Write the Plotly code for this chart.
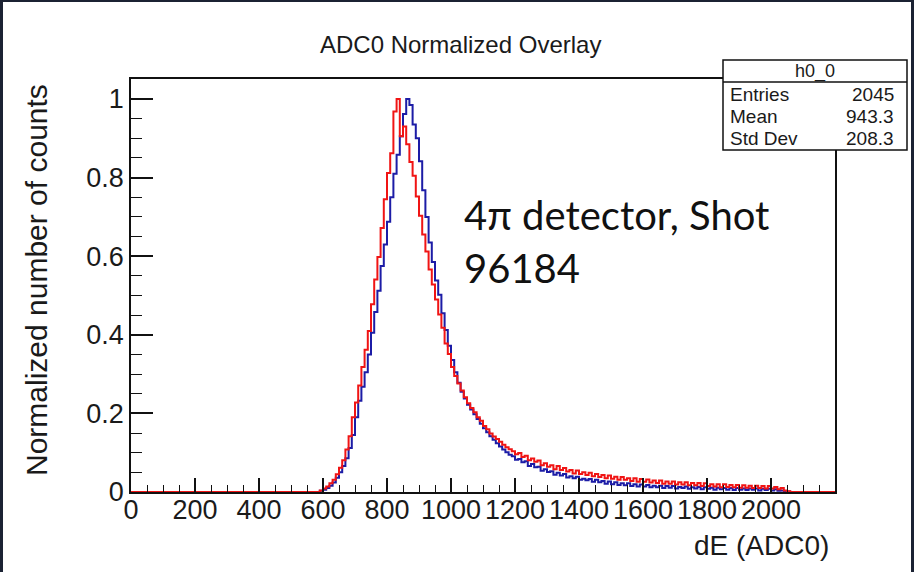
import numpy as np
import plotly.graph_objects as go

# Histogram binning (dE in ADC0 units)
BIN_WIDTH = 10
X_MIN, X_MAX = 0, 2200
FIRST_FILLED_EDGE = 590

# Normalized counts per bin, starting at FIRST_FILLED_EDGE
blue_counts = [
    0.003, 0.006, 0.010, 0.016, 0.024, 0.036, 0.050, 0.066, 0.086, 0.112,
    0.145, 0.190, 0.232, 0.268, 0.305, 0.350, 0.405, 0.458, 0.512, 0.575,
    0.630, 0.688, 0.750, 0.810, 0.858, 0.905, 0.962, 1.000, 0.985, 0.935,
    0.900, 0.842, 0.768, 0.700, 0.635, 0.585, 0.538, 0.502, 0.455, 0.412,
    0.372, 0.336, 0.305, 0.278, 0.255, 0.238, 0.222, 0.210, 0.198, 0.186,
    0.174, 0.162, 0.152, 0.142, 0.133, 0.124, 0.116, 0.108, 0.101, 0.095,
    0.091, 0.082, 0.084, 0.076, 0.078, 0.066, 0.071, 0.063, 0.064, 0.054,
    0.058, 0.051, 0.053, 0.044, 0.049, 0.042, 0.046, 0.037, 0.040, 0.035,
    0.039, 0.031, 0.034, 0.030, 0.033, 0.026, 0.031, 0.025, 0.028, 0.021,
    0.027, 0.020, 0.025, 0.018, 0.022, 0.017, 0.022, 0.015, 0.020, 0.014,
    0.019, 0.014, 0.018, 0.012, 0.016, 0.012, 0.016, 0.010, 0.015, 0.011,
    0.015, 0.009, 0.013, 0.010, 0.014, 0.008, 0.012, 0.009, 0.013, 0.007,
    0.012, 0.008, 0.011, 0.006, 0.011, 0.007, 0.010, 0.006, 0.010, 0.005,
    0.010, 0.006, 0.009, 0.005, 0.009, 0.006, 0.009, 0.004, 0.008, 0.005,
    0.008, 0.004, 0.007, 0.003, 0.004, 0.002, 0.001,
]

red_counts = [
    0.004, 0.009, 0.014, 0.022, 0.031, 0.045, 0.062, 0.081, 0.108, 0.142,
    0.190, 0.228, 0.271, 0.318, 0.362, 0.410, 0.478, 0.541, 0.598, 0.672,
    0.745, 0.812, 0.862, 0.968, 1.000, 0.905, 0.930, 0.885, 0.840, 0.805,
    0.752, 0.703, 0.655, 0.612, 0.566, 0.528, 0.490, 0.452, 0.418, 0.378,
    0.351, 0.318, 0.295, 0.276, 0.258, 0.241, 0.226, 0.214, 0.203, 0.190,
    0.181, 0.168, 0.160, 0.149, 0.141, 0.135, 0.128, 0.120, 0.114, 0.109,
    0.104, 0.096, 0.099, 0.089, 0.092, 0.081, 0.085, 0.077, 0.080, 0.068,
    0.073, 0.064, 0.068, 0.058, 0.066, 0.056, 0.061, 0.052, 0.056, 0.047,
    0.055, 0.046, 0.050, 0.043, 0.049, 0.040, 0.046, 0.038, 0.043, 0.035,
    0.042, 0.034, 0.039, 0.031, 0.038, 0.031, 0.035, 0.028, 0.035, 0.026,
    0.033, 0.026, 0.032, 0.024, 0.029, 0.023, 0.029, 0.021, 0.027, 0.021,
    0.027, 0.019, 0.025, 0.019, 0.025, 0.017, 0.023, 0.017, 0.023, 0.015,
    0.022, 0.015, 0.020, 0.014, 0.020, 0.012, 0.020, 0.013, 0.018, 0.012,
    0.018, 0.011, 0.017, 0.011, 0.016, 0.010, 0.016, 0.010, 0.015, 0.009,
    0.015, 0.009, 0.013, 0.007, 0.010, 0.004, 0.002,
]

x_tick_values = [0, 200, 400, 600, 800, 1000, 1200, 1400, 1600, 1800, 2000]
x_tick_labels = [str(v) for v in x_tick_values]
y_tick_values = [0, 0.2, 0.4, 0.6, 0.8, 1.0]
y_tick_labels = ["0", "0.2", "0.4", "0.6", "0.8", "1"]

stats_rows = [("Entries", "2045"), ("Mean", "943.3"), ("Std Dev", "208.3")]

BLUE = "#1c1ca6"
RED = "#f01414"
INK = "#1a1a1a"
FONT = "Liberation Sans, Arial, sans-serif"


def step_arrays(counts):
    """Full 0..2200 histogram as step-line vertices (empty bins are zero)."""
    edges = np.arange(X_MIN, X_MAX + BIN_WIDTH, BIN_WIDTH)
    vals = np.zeros(len(edges) - 1)
    start = (FIRST_FILLED_EDGE - X_MIN) // BIN_WIDTH
    vals[start:start + len(counts)] = counts
    return edges, np.append(vals, vals[-1])


fig = go.Figure()
for counts, color in ((blue_counts, BLUE), (red_counts, RED)):
    xs, ys = step_arrays(counts)
    fig.add_trace(go.Scatter(x=xs, y=ys, mode="lines", line_shape="hv",
                             line=dict(color=color, width=2),
                             hoverinfo="skip", showlegend=False))

# Plot frame geometry in pixels
W, H = 914, 572
L, R, T, B = 131, 835, 79, 492
pw, ph = R - L, B - T


def px(x):
    return (x - L) / pw


def py(y):
    return (B - y) / ph


fig.update_layout(
    width=W, height=H,
    margin=dict(l=L, r=W - R, t=T, b=H - B),
    paper_bgcolor="white", plot_bgcolor="white",
    font=dict(family=FONT, color=INK),
    xaxis=dict(range=[X_MIN, X_MAX], tickmode="array", tickvals=x_tick_values,
               ticktext=x_tick_labels, ticks="inside", ticklen=14, tickwidth=1.5,
               tickcolor="#111", showgrid=False, zeroline=False, showline=True,
               linecolor="#111", linewidth=1.5, mirror=True, tickangle=0,
               ticklabelstandoff=-7,
               tickfont=dict(size=27, family=FONT, color=INK),
               minor=dict(dtick=50, tick0=0, ticks="inside", ticklen=7,
                          tickcolor="#111", tickwidth=1.2, showgrid=False)),
    yaxis=dict(range=[0, 1.051], tickmode="array", tickvals=y_tick_values,
               ticktext=y_tick_labels, ticks="inside", ticklen=22, tickwidth=1.5,
               tickcolor="#111", showgrid=False, zeroline=False, showline=True,
               linecolor="#111", linewidth=1.5, mirror=True,
               tickfont=dict(size=27, family=FONT, color=INK),
               minor=dict(dtick=0.05, tick0=0, ticks="inside", ticklen=11,
                          tickcolor="#111", tickwidth=1.2, showgrid=False)),
)

shapes = []
# dark outer border on left, top and right
border = "#1b2233"
shapes.append(dict(type="rect", xref="paper", yref="paper", x0=px(0), x1=px(3),
                   y0=py(H), y1=py(0), fillcolor=border, line_width=0, layer="above"))
shapes.append(dict(type="rect", xref="paper", yref="paper", x0=px(0), x1=px(W),
                   y0=py(2), y1=py(0), fillcolor=border, line_width=0, layer="above"))
shapes.append(dict(type="rect", xref="paper", yref="paper", x0=px(W - 3), x1=px(W),
                   y0=py(H), y1=py(0), fillcolor=border, line_width=0, layer="above"))

# statistics box
bx0, bx1, by0, by1, bhead = 723, 907, 60, 150, 82
shapes.append(dict(type="rect", xref="paper", yref="paper", x0=px(bx0), x1=px(bx1),
                   y0=py(by1), y1=py(by0), fillcolor="white",
                   line=dict(color="#111", width=1.5), layer="above"))
shapes.append(dict(type="line", xref="paper", yref="paper", x0=px(bx0), x1=px(bx1),
                   y0=py(bhead), y1=py(bhead), line=dict(color="#111", width=1.5),
                   layer="above"))
fig.update_layout(shapes=shapes)

ann = []
ann.append(dict(text="h0_0", x=px((bx0 + bx1) / 2), y=py(71), xref="paper", yref="paper",
                showarrow=False, xanchor="center", yanchor="middle",
                font=dict(size=18, family=FONT, color=INK)))
for i, (name, val) in enumerate(stats_rows):
    yy = py(94 + 22 * i)
    ann.append(dict(text=name, x=px(bx0 + 5), y=yy, xref="paper", yref="paper",
                    showarrow=False, xanchor="left", yanchor="middle",
                    font=dict(size=19, family=FONT, color=INK)))
    ann.append(dict(text=val, x=px(bx1 - 11), y=yy, xref="paper", yref="paper",
                    showarrow=False, xanchor="right", yanchor="middle",
                    font=dict(size=19, family=FONT, color=INK)))

ann.append(dict(text="ADC0 Normalized Overlay", x=px(460), y=py(44), xref="paper",
                yref="paper", showarrow=False, xanchor="center", yanchor="middle",
                font=dict(size=24, family=FONT, color=INK)))
ann.append(dict(text="Normalized number of counts", x=px(36), y=py(280), xref="paper",
                yref="paper", showarrow=False, textangle=-90, xanchor="center",
                yanchor="middle", font=dict(size=30, family=FONT, color=INK)))
ann.append(dict(text="dE (ADC0)", x=px(831), y=py(545), xref="paper", yref="paper",
                showarrow=False, xanchor="right", yanchor="middle",
                font=dict(size=28, family=FONT, color=INK)))
ann.append(dict(text="4π detector, Shot", x=px(462), y=py(215), xref="paper",
                yref="paper", showarrow=False, xanchor="left", yanchor="middle",
                font=dict(size=40, family="Lato, sans-serif", color="#111")))
ann.append(dict(text="96184", x=px(462), y=py(268), xref="paper", yref="paper",
                showarrow=False, xanchor="left", yanchor="middle",
                font=dict(size=40, family="Lato, sans-serif", color="#111")))
fig.update_layout(annotations=ann)

fig.write_html("out.html")
